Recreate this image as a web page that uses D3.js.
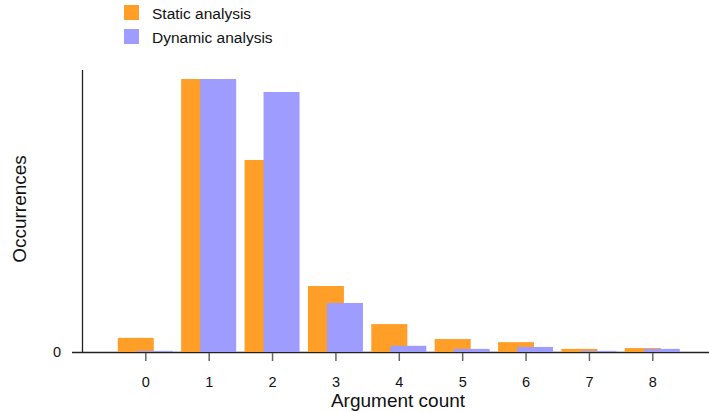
<!DOCTYPE html>
<html><head><meta charset="utf-8">
<script src="https://cdn.jsdelivr.net/npm/d3@7"></script>
<style>body{margin:0;background:#fff}svg{display:block;font-family:"Liberation Sans",Arial,sans-serif}</style>
</head><body>
<svg id="c" width="709" height="412"></svg>
<script>
const categories = ["0","1","2","3","4","5","6","7","8"];
const staticVals  = [5.0, 96.8, 68.1, 23.4, 9.9, 4.6, 3.5, 1.1, 1.4];
const dynamicVals = [0.4, 96.8, 92.2, 17.4, 2.2, 1.1, 1.8, 0.4, 1.1];
const seriesNames = ["Static analysis","Dynamic analysis"];
const colors = ["#ff9f27","#9e9cff"];
const yTicks = [0];

const svg = d3.select("#c");
const x0 = 82, yBase = 352, yTop = 70;
const x = d3.scalePoint().domain(categories).range([145.3, 652.3]);
const y = d3.scaleLinear().domain([0,100]).range([yBase, yTop]);
const bw = 36, off = 9.5;

// x axis line
svg.append("line").attr("x1",72).attr("x2",709).attr("y1",yBase+0.5).attr("y2",yBase+0.5).attr("stroke","#222").attr("stroke-width",1.3);
// y axis line
svg.append("line").attr("x1",x0+0.5).attr("x2",x0+0.5).attr("y1",yTop).attr("y2",yBase).attr("stroke","#222").attr("stroke-width",1.3);

// bars
const series = [staticVals, dynamicVals];
series.forEach((vals,si)=>{
  svg.append("g").selectAll("rect").data(vals).join("rect")
    .attr("x",(d,i)=>x(categories[i]) + (si===0?-off:off) - bw/2)
    .attr("width",bw)
    .attr("y",d=>y(d))
    .attr("height",d=>yBase - y(d))
    .attr("fill",colors[si]);
});

// x ticks
const xg = svg.append("g").attr("transform",`translate(0,${yBase+1})`)
  .call(d3.axisBottom(x).tickSize(8).tickPadding(16));
xg.select(".domain").remove();
xg.selectAll(".tick line").attr("stroke","#666").attr("stroke-width",1.5);
xg.selectAll(".tick text").attr("font-size",14.5).attr("fill","#111").attr("font-family","Liberation Sans, Arial, sans-serif");

// y ticks
const yg = svg.append("g").attr("transform",`translate(${x0},0)`)
  .call(d3.axisLeft(y).tickValues(yTicks).tickSize(0).tickPadding(21));
yg.select(".domain").remove();
yg.selectAll(".tick text").attr("font-size",14.5).attr("fill","#111").attr("font-family","Liberation Sans, Arial, sans-serif");

// axis titles
svg.append("text").attr("x",398).attr("y",407).attr("text-anchor","middle").attr("font-size",19).attr("fill","#111").text("Argument count");
svg.append("text").attr("transform","translate(26,209) rotate(-90)").attr("text-anchor","middle").attr("font-size",19).attr("fill","#111").text("Occurrences");

// legend
seriesNames.forEach((n,i)=>{
  svg.append("rect").attr("x",124).attr("y",5+i*24).attr("width",15).attr("height",15).attr("fill",colors[i]);
  svg.append("text").attr("x",152).attr("y",19+i*24).attr("font-size",15.5).attr("fill","#111").text(n);
});
</script>
</body></html>
